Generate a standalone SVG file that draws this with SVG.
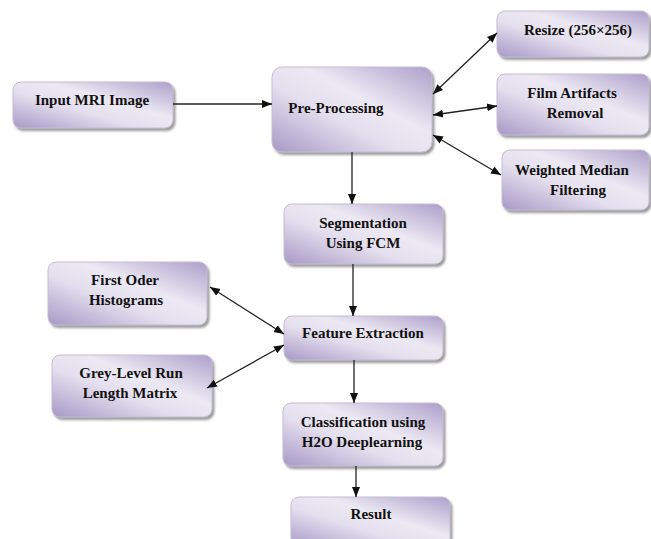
<svg xmlns="http://www.w3.org/2000/svg" width="651" height="539" viewBox="0 0 651 539">
  <defs>
    <linearGradient id="g" x1="0" y1="1" x2="1" y2="0">
      <stop offset="0" stop-color="#a898c6"/>
      <stop offset="0.4" stop-color="#e4dfee"/>
      <stop offset="0.6" stop-color="#ece9f3"/>
      <stop offset="1" stop-color="#ad9fca"/>
    </linearGradient>
    <filter id="sh" x="-10%" y="-10%" width="125%" height="135%">
      <feDropShadow dx="2" dy="2.5" stdDeviation="1.2" flood-color="#707070" flood-opacity="0.7"/>
    </filter>
    <marker id="ah" viewBox="0 0 10 10" refX="10" refY="5" markerWidth="10" markerHeight="10" markerUnits="userSpaceOnUse" orient="auto-start-reverse">
      <path d="M0,1 L10,5 L0,9 Z" fill="#111"/>
    </marker>
    <style>
      .box { fill: url(#g); stroke: #c4bcd4; stroke-width: 1; filter: url(#sh); }
      .t { font-family: "Liberation Serif", "Times New Roman", serif; font-weight: bold; font-size: 15px; fill: #111; text-anchor: middle; }
      .c { stroke: #222; stroke-width: 1.3; fill: none; }
    </style>
  </defs>
  <rect width="651" height="539" fill="#ffffff"/>

  <g id="input">
    <rect class="box" x="13" y="82" width="160" height="46" rx="8"/>
    <text class="t" x="92" y="105">Input  MRI  Image</text>
  </g>
  <g id="preprocessing">
    <rect class="box" x="272" y="67" width="160" height="85" rx="10"/>
    <text class="t" x="336" y="113">Pre-Processing</text>
  </g>
  <g id="resize">
    <rect class="box" x="497" y="11" width="152" height="46" rx="8"/>
    <text class="t" x="578" y="35">Resize (256×256)</text>
  </g>
  <g id="film">
    <rect class="box" x="497" y="74" width="152" height="61" rx="8"/>
    <text class="t" x="572" y="98">Film  Artifacts</text>
    <text class="t" x="575" y="118">Removal</text>
  </g>
  <g id="weighted">
    <rect class="box" x="502" y="150" width="147" height="60" rx="8"/>
    <text class="t" x="572" y="175">Weighted  Median</text>
    <text class="t" x="578" y="195">Filtering</text>
  </g>
  <g id="segmentation">
    <rect class="box" x="284" y="204" width="159" height="60" rx="8"/>
    <text class="t" x="363" y="228">Segmentation</text>
    <text class="t" x="363" y="248">Using  FCM</text>
  </g>
  <g id="feature">
    <rect class="box" x="284" y="316" width="159" height="44" rx="8"/>
    <text class="t" x="363" y="338">Feature  Extraction</text>
  </g>
  <g id="classification">
    <rect class="box" x="283" y="403" width="160" height="63" rx="8"/>
    <text class="t" x="363" y="427">Classification using</text>
    <text class="t" x="362" y="447">H2O  Deeplearning</text>
  </g>
  <g id="result">
    <rect class="box" x="291" y="497" width="159" height="50" rx="8"/>
    <text class="t" x="371" y="519">Result</text>
  </g>
  <g id="firstorder">
    <rect class="box" x="48" y="262" width="159" height="63" rx="8"/>
    <text class="t" x="125" y="285">First  Oder</text>
    <text class="t" x="126" y="305">Histograms</text>
  </g>
  <g id="glrlm">
    <rect class="box" x="52" y="355" width="160" height="62" rx="8"/>
    <text class="t" x="131" y="378">Grey-Level  Run</text>
    <text class="t" x="130" y="398">Length  Matrix</text>
  </g>

  <g id="connectors">
    <line class="c" x1="173" y1="104" x2="272" y2="104" marker-end="url(#ah)"/>
    <line class="c" x1="433" y1="94" x2="497" y2="33" marker-start="url(#ah)" marker-end="url(#ah)"/>
    <line class="c" x1="433" y1="115" x2="497" y2="106" marker-start="url(#ah)" marker-end="url(#ah)"/>
    <line class="c" x1="433" y1="135" x2="501" y2="175" marker-start="url(#ah)" marker-end="url(#ah)"/>
    <line class="c" x1="352" y1="152" x2="352" y2="204" marker-end="url(#ah)"/>
    <line class="c" x1="353" y1="264" x2="353" y2="316" marker-end="url(#ah)"/>
    <line class="c" x1="354" y1="360" x2="354" y2="403" marker-end="url(#ah)"/>
    <line class="c" x1="356" y1="466" x2="356" y2="497" marker-end="url(#ah)"/>
    <line class="c" x1="210" y1="287" x2="284" y2="334" marker-start="url(#ah)" marker-end="url(#ah)"/>
    <line class="c" x1="207" y1="388" x2="284" y2="345" marker-start="url(#ah)" marker-end="url(#ah)"/>
  </g>
</svg>
